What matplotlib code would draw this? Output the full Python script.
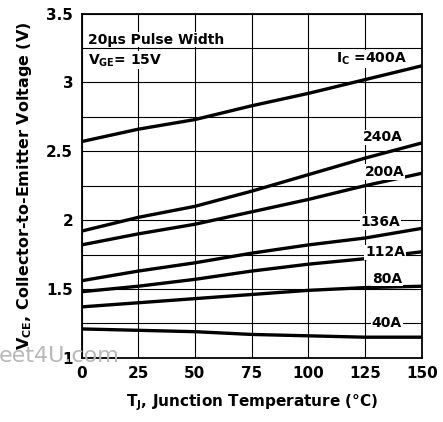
import numpy as np
import matplotlib
matplotlib.use("Agg")
import matplotlib.pyplot as plt

plt.rcParams['font.family'] = ['DejaVu Sans']
plt.rcParams['font.weight'] = 'bold'
plt.rcParams['axes.labelweight'] = 'bold'

# junction temperature (deg C)
temp = [0, 25, 50, 75, 100, 125, 150]

# V_CE readings per collector current
vce_400 = [2.57, 2.66, 2.73, 2.83, 2.92, 3.02, 3.12]
vce_240 = [1.92, 2.02, 2.10, 2.21, 2.33, 2.45, 2.56]
vce_200 = [1.82, 1.90, 1.97, 2.06, 2.15, 2.25, 2.34]
vce_136 = [1.56, 1.63, 1.69, 1.76, 1.82, 1.87, 1.94]
vce_112 = [1.48, 1.52, 1.57, 1.63, 1.68, 1.72, 1.77]
vce_80 = [1.37, 1.40, 1.43, 1.46, 1.49, 1.51, 1.52]
vce_40 = [1.21, 1.20, 1.19, 1.17, 1.16, 1.15, 1.15]

curves = [vce_400, vce_240, vce_200, vce_136, vce_112, vce_80, vce_40]
labels = [r'I$_{\bf C}$ =400A', '240A', '200A', '136A', '112A', '80A', '40A']
# label positions (x, y) in data units
label_pos = [(112, 3.17), (124, 2.60), (125, 2.35), (123, 1.985),
             (125, 1.767), (128, 1.575), (128, 1.25)]

xticks = [0, 25, 50, 75, 100, 125, 150]
yticks = [1, 1.5, 2, 2.5, 3, 3.5]
ytick_labels = ['1', '1.5', '2', '2.5', '3', '3.5']

fig = plt.figure(figsize=(4.43, 4.22), dpi=100)
ax = fig.add_axes([0.184, 0.152, 0.768, 0.816])

for v in curves:
    ax.plot(temp, v, color='black', linewidth=2.4, solid_capstyle='butt', zorder=3)

for lab, (lx, ly) in zip(labels, label_pos):
    ax.text(lx, ly, lab, fontsize=10, va='center', ha='left', zorder=4,
            bbox=dict(facecolor='white', edgecolor='none', pad=0.5))

ax.text(3, 3.31, u'20\u00b5s Pulse Width', fontsize=10, va='center', ha='left', zorder=4,
        bbox=dict(facecolor='white', edgecolor='none', pad=0.5))
ax.text(3, 3.16, r'V$_{\bf GE}$= 15V', fontsize=10, va='center', ha='left', zorder=4,
        bbox=dict(facecolor='white', edgecolor='none', pad=0.5))

ax.set_xlim(0, 150)
ax.set_ylim(1, 3.5)
ax.set_xticks(xticks)
ax.set_yticks(yticks)
ax.set_yticklabels(ytick_labels)
ax.set_yticks(np.arange(1, 3.51, 0.25), minor=True)
ax.grid(True, which='both', color='black', linewidth=0.8)
ax.tick_params(which='both', length=0, labelsize=11, pad=6)
for s in ax.spines.values():
    s.set_linewidth(1.3)

ax.set_xlabel(r'T$_{\bf J}$, Junction Temperature ($\degree$C)', fontsize=11, labelpad=8)
ax.set_ylabel(r'V$_{\bf CE}$, Collector-to-Emitter Voltage (V)', fontsize=11.5, labelpad=9)

# datasheet site watermark
fig.text(0.271, 0.156, 'eet4U.com', fontsize=16, color='#b8b8b8', fontweight='normal',
         va='center', ha='right', zorder=0)

fig.savefig('out.png', dpi=100)
